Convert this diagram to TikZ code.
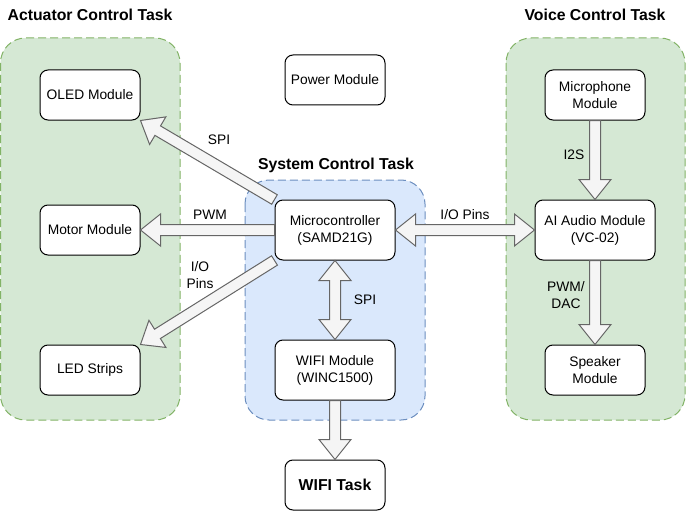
\documentclass[tikz,border=0pt]{standalone}
\usepackage{fontspec}
\setmainfont{Liberation Sans}
\usetikzlibrary{calc,positioning}
\definecolor{grpgreen}{HTML}{D5E8D4}
\definecolor{grpgreenline}{HTML}{82B366}
\definecolor{grpblue}{HTML}{DAE8FC}
\definecolor{grpblueline}{HTML}{6C8EBF}
\definecolor{arrowfill}{HTML}{F5F5F5}
\definecolor{arrowline}{HTML}{666666}

\begin{document}
\begin{tikzpicture}[x=1pt, y=-1pt, line width=1pt,
  module/.style={draw, fill=white, rounded corners=8pt, minimum width=100pt, minimum height=50pt,
    align=center, inner sep=2pt, font=\fontsize{13.8}{17}\selectfont},
  grouptitle/.style={font=\fontsize{15.8}{18}\selectfont\bfseries},
  lbl/.style={align=center, inner sep=1pt, font=\fontsize{13.8}{17}\selectfont},
  flex/.style={draw=arrowline, fill=arrowfill, line join=miter, to path={
    ($(\tikztostart)!5.5pt!90:(\tikztotarget)$)
    -- ($(\tikztotarget)!20pt!(\tikztostart)!5.5pt!90:(\tikztotarget)$)
    -- ($(\tikztotarget)!20pt!(\tikztostart)!16pt!90:(\tikztotarget)$)
    -- (\tikztotarget)
    -- ($(\tikztotarget)!20pt!(\tikztostart)!16pt!-90:(\tikztotarget)$)
    -- ($(\tikztotarget)!20pt!(\tikztostart)!5.5pt!-90:(\tikztotarget)$)
    -- ($(\tikztostart)!5.5pt!-90:(\tikztotarget)$) -- cycle}},
  flexboth/.style={draw=arrowline, fill=arrowfill, line join=miter, to path={
    (\tikztostart)
    -- ($(\tikztostart)!20pt!(\tikztotarget)!16pt!90:(\tikztotarget)$)
    -- ($(\tikztostart)!20pt!(\tikztotarget)!5.5pt!90:(\tikztotarget)$)
    -- ($(\tikztotarget)!20pt!(\tikztostart)!5.5pt!90:(\tikztotarget)$)
    -- ($(\tikztotarget)!20pt!(\tikztostart)!16pt!90:(\tikztotarget)$)
    -- (\tikztotarget)
    -- ($(\tikztotarget)!20pt!(\tikztostart)!16pt!-90:(\tikztotarget)$)
    -- ($(\tikztotarget)!20pt!(\tikztostart)!5.5pt!-90:(\tikztotarget)$)
    -- ($(\tikztostart)!20pt!(\tikztotarget)!5.5pt!-90:(\tikztotarget)$)
    -- ($(\tikztostart)!20pt!(\tikztotarget)!16pt!-90:(\tikztotarget)$) -- cycle}}]
   \useasboundingbox (0,0) rectangle (686,511);
   % task groups
   \draw[draw=grpgreenline, fill=grpgreen, dash pattern=on 8pt off 4pt, rounded corners=25pt] (0.5,38) rectangle (180,420);
   \draw[draw=grpgreenline, fill=grpgreen, dash pattern=on 8pt off 4pt, rounded corners=25pt] (506,38) rectangle (685,420);
   \draw[draw=grpblueline, fill=grpblue, dash pattern=on 8pt off 4pt, rounded corners=24pt] (245,180) rectangle (425,420);
   \node[grouptitle] (acttitle) at (90,15) {Actuator Control Task};
   \node[grouptitle] (voicetitle) at (595,15) {Voice Control Task};
   \node[grouptitle] (systitle) at (336,165) {System Control Task};
   % modules
   \node[module] (oled) at (90,95) {OLED Module};
   \node[module] (motor) at (90,230) {Motor Module};
   \node[module] (led) at (90,370) {LED Strips};
   \node[module] (power) at (335,80) {Power Module};
   \node[module, minimum width=120pt, minimum height=60pt] (mcu) at (335,230) {Microcontroller\\(SAMD21G)};
   \node[module, minimum width=120pt, minimum height=60pt] (wifi) at (335,370) {WIFI Module\\(WINC1500)};
   \node[module, font=\fontsize{15.8}{18}\selectfont\bfseries] (wifitask) at (335,485) {WIFI Task};
   \node[module] (mic) at (595,95) {Microphone\\Module};
   \node[module, minimum width=120pt, minimum height=60pt] (audio) at (595,230) {AI Audio Module\\(VC-02)};
   \node[module] (speaker) at (595,370) {Speaker\\Module};
   % links
   \draw[flex] (mcu.north west) to (oled.south east);
   \draw[flex] (mcu.west) to (motor.east);
   \draw[flex] (mcu.south west) to (led.north east);
   \draw[flexboth] (mcu.south) to (wifi.north);
   \draw[flexboth] (mcu.east) to (audio.west);
   \draw[flex] (wifi.south) to (wifitask.north);
   \draw[flex] (mic.south) to (audio.north);
   \draw[flex] (audio.south) to (speaker.north);
   \node[lbl] (spioled) at (219,140) {SPI};
   \node[lbl] (pwmmotor) at (210,215) {PWM};
   \node[lbl] (ioled) at (200,275) {I/O\\Pins};
   \node[lbl] (spiwifi) at (365,300) {SPI};
   \node[lbl] (ioaudio) at (465,215) {I/O Pins};
   \node[lbl] (i2s) at (574,155) {I2S};
   \node[lbl] (pwmdac) at (566,295) {PWM/\\DAC};
\end{tikzpicture}
\end{document}
